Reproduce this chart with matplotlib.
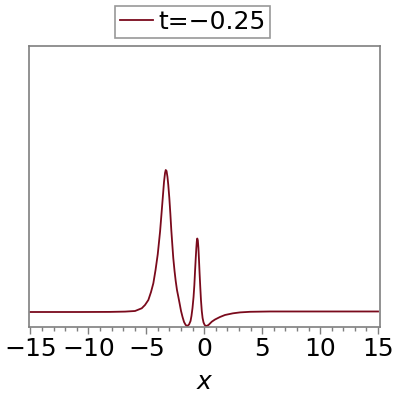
import matplotlib
matplotlib.use("Agg")
import matplotlib.pyplot as plt
import numpy as np

# Curve samples (x in data units, y in arbitrary units, baseline 0)
x_vals = [-15.0, -10.72, -8.13, -6.83, -5.97, -5.39, -5.11, -4.82, -4.59, -4.39,
          -4.20, -4.01, -3.81, -3.68, -3.58, -3.47, -3.38, -3.32, -3.25, -3.17,
          -3.10, -3.01, -2.92, -2.84, -2.75, -2.67, -2.56, -2.46, -2.35, -2.23,
          -2.13, -2.00, -1.87, -1.74, -1.60, -1.46, -1.31, -1.18, -1.10, -1.01,
          -0.92, -0.85, -0.79, -0.73, -0.68, -0.64, -0.60, -0.55, -0.50, -0.45,
          -0.40, -0.34, -0.28, -0.21, -0.14, -0.06, 0.03, 0.11, 0.18, 0.37,
          0.65, 0.93, 1.36, 1.79, 2.48, 3.09, 3.95, 5.68, 8.27, 15.0]
y_vals = [0.0, 0.0, 0.0025, 0.01, 0.025, 0.093, 0.175, 0.3, 0.5, 0.718,
          1.05, 1.443, 2.008, 2.475, 2.843, 3.25, 3.475, 3.55, 3.525, 3.375,
          3.175, 2.85, 2.45, 2.05, 1.675, 1.35, 1.025, 0.775, 0.55, 0.375,
          0.225, 0.025, -0.125, -0.25, -0.325, -0.35, -0.313, -0.225, -0.1, 0.1,
          0.375, 0.675, 1.025, 1.35, 1.6, 1.763, 1.838, 1.79, 1.6, 1.3,
          0.975, 0.625, 0.3, 0.025, -0.15, -0.26, -0.32, -0.345, -0.35, -0.325,
          -0.243, -0.188, -0.125, -0.075, -0.033, -0.01, 0.005, 0.013, 0.013, 0.013]
x_ticks = [-15, -10, -5, 0, 5, 10, 15]
x_ticklabels = ["\u221215", "\u221210", "\u22125", "0", "5", "10", "15"]
legend_label = "t=\u22120.25"
x_label = "x"

line_color = "#7a0a1c"
spine_color = "#7f7f7f"

plt.rcParams['font.family'] = ['DejaVu Sans']

fig = plt.figure(figsize=(4, 4), dpi=100)
ax = fig.add_axes([29/400, 1 - 327/400, 351/400, 281/400])

ax.plot(x_vals, y_vals, color=line_color, lw=1.3, label=legend_label,
        solid_joinstyle='round')

ax.set_xlim(-15.12, 15.17)
ax.set_ylim(-0.375, 6.65)

ax.set_xticks(x_ticks)
ax.set_xticklabels(x_ticklabels, fontsize=18)
ax.set_xticks(np.arange(-15, 16, 1), minor=True)
ax.tick_params(axis='x', which='major', length=5, width=1, color=spine_color, pad=2)
ax.tick_params(axis='x', which='minor', length=3, width=1, color=spine_color)
ax.set_yticks([])
for s in ax.spines.values():
    s.set_color(spine_color)
    s.set_linewidth(1.2)

ax.set_xlabel(x_label, fontsize=18, style='italic', labelpad=7)

leg = fig.legend(loc='center', bbox_to_anchor=(192.5/400, 1 - 22/400), fontsize=18,
                 frameon=True, fancybox=False, handlelength=1.35, handletextpad=0.2,
                 borderpad=0.17, borderaxespad=0.0)
leg.get_frame().set_edgecolor(spine_color)
leg.get_frame().set_linewidth(1.2)

fig.savefig("out.png", dpi=100)
